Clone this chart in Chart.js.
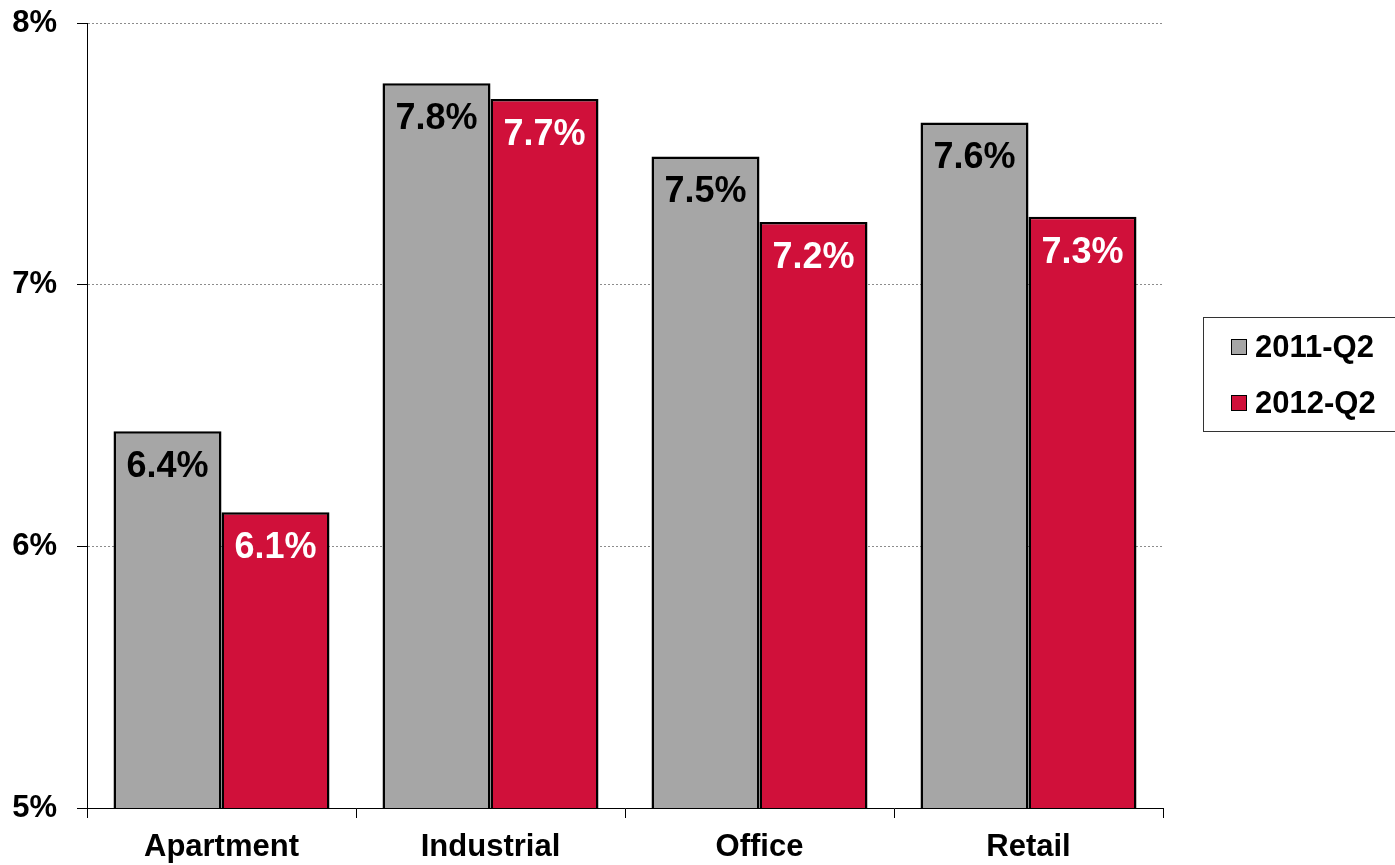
<!DOCTYPE html>
<html>
<head>
<meta charset="utf-8">
<script src="https://cdn.jsdelivr.net/npm/chart.js@4"></script>
<style>
  html, body { margin: 0; padding: 0; background: #fff; }
  #wrap { width: 1395px; height: 865px; position: relative; }
</style>
</head>
<body>
<div id="wrap"><canvas id="chart"></canvas></div>
<script>
const categories = ["Apartment", "Industrial", "Office", "Retail"];
const seriesNames = ["2011-Q2", "2012-Q2"];
const values2011 = [6.44, 7.77, 7.49, 7.62];
const values2012 = [6.13, 7.71, 7.24, 7.26];
const yTicks = [5, 6, 7, 8];

const FONT = "'Liberation Sans', Arial, sans-serif";
const GRAY = "#A6A6A6";
const RED = "#D0103A";

// value labels drawn inside the top of each bar
const barLabels = {
  id: "barLabels",
  afterDatasetsDraw(chart) {
    const ctx = chart.ctx;
    ctx.save();
    ctx.font = "bold 36px " + FONT;
    ctx.textAlign = "center";
    ctx.textBaseline = "middle";
    chart.data.datasets.forEach((ds, i) => {
      const meta = chart.getDatasetMeta(i);
      meta.data.forEach((bar, j) => {
        ctx.fillStyle = i === 0 ? "#000" : "#fff";
        ctx.fillText(ds.data[j].toFixed(1) + "%", bar.x, bar.y + 36);
      });
    });
    ctx.restore();
  }
};

// boxed legend on the right, partly cut by the page edge
const boxLegend = {
  id: "boxLegend",
  afterDraw(chart) {
    const ctx = chart.ctx;
    const x = chart.chartArea.right + 40;
    const y = 317;
    ctx.save();
    ctx.strokeStyle = "#333";
    ctx.lineWidth = 1;
    ctx.strokeRect(x + 0.5, y + 0.5, 250, 114);
    ctx.font = "bold 31px " + FONT;
    ctx.textBaseline = "middle";
    chart.data.datasets.forEach((ds, i) => {
      const cy = y + 30 + i * 56;
      ctx.fillStyle = ds.backgroundColor;
      ctx.fillRect(x + 28, cy - 8, 16, 16);
      ctx.strokeStyle = "#000";
      ctx.strokeRect(x + 28.5, cy - 7.5, 15, 15);
      ctx.fillStyle = "#000";
      ctx.fillText(ds.label, x + 52, cy + 1);
    });
    ctx.restore();
  }
};

new Chart(document.getElementById("chart"), {
  type: "bar",
  data: {
    labels: categories,
    datasets: [
      { label: seriesNames[0], data: values2011, backgroundColor: GRAY },
      { label: seriesNames[1], data: values2012, backgroundColor: RED }
    ]
  },
  options: {
    responsive: true,
    maintainAspectRatio: false,
    animation: false,
    layout: { padding: { top: 21, right: 232, left: 0, bottom: 0 } },
    datasets: {
      bar: {
        borderColor: "#000",
        borderWidth: 2.5,
        borderSkipped: false,
        categoryPercentage: 0.803,
        barPercentage: 1
      }
    },
    plugins: {
      legend: { display: false },
      tooltip: { enabled: false }
    },
    scales: {
      x: {
        afterFit(scale) { scale.height = 57; },
        grid: {
          offset: true,
          drawOnChartArea: false,
          color: "#000",
          tickLength: 10
        },
        border: { color: "#000", width: 1 },
        ticks: {
          color: "#000",
          padding: 11,
          font: { family: FONT, size: 31, weight: "bold" }
        }
      },
      y: {
        min: 5,
        max: 8,
        afterFit(scale) { scale.width = 87; },
        afterBuildTicks(scale) {
          scale.ticks = yTicks.map(v => ({ value: v }));
        },
        grid: {
          color: "#8c8c8c",
          tickColor: "#000",
          tickLength: 10,
          tickBorderDash: [0, 0]
        },
        border: { color: "#000", width: 1, dash: [2, 2] },
        ticks: {
          color: "#000",
          padding: 20,
          font: { family: FONT, size: 31, weight: "bold", lineHeight: 0.2 },
          callback: v => v + "%"
        }
      }
    }
  },
  plugins: [barLabels, boxLegend]
});
</script>
</body>
</html>
